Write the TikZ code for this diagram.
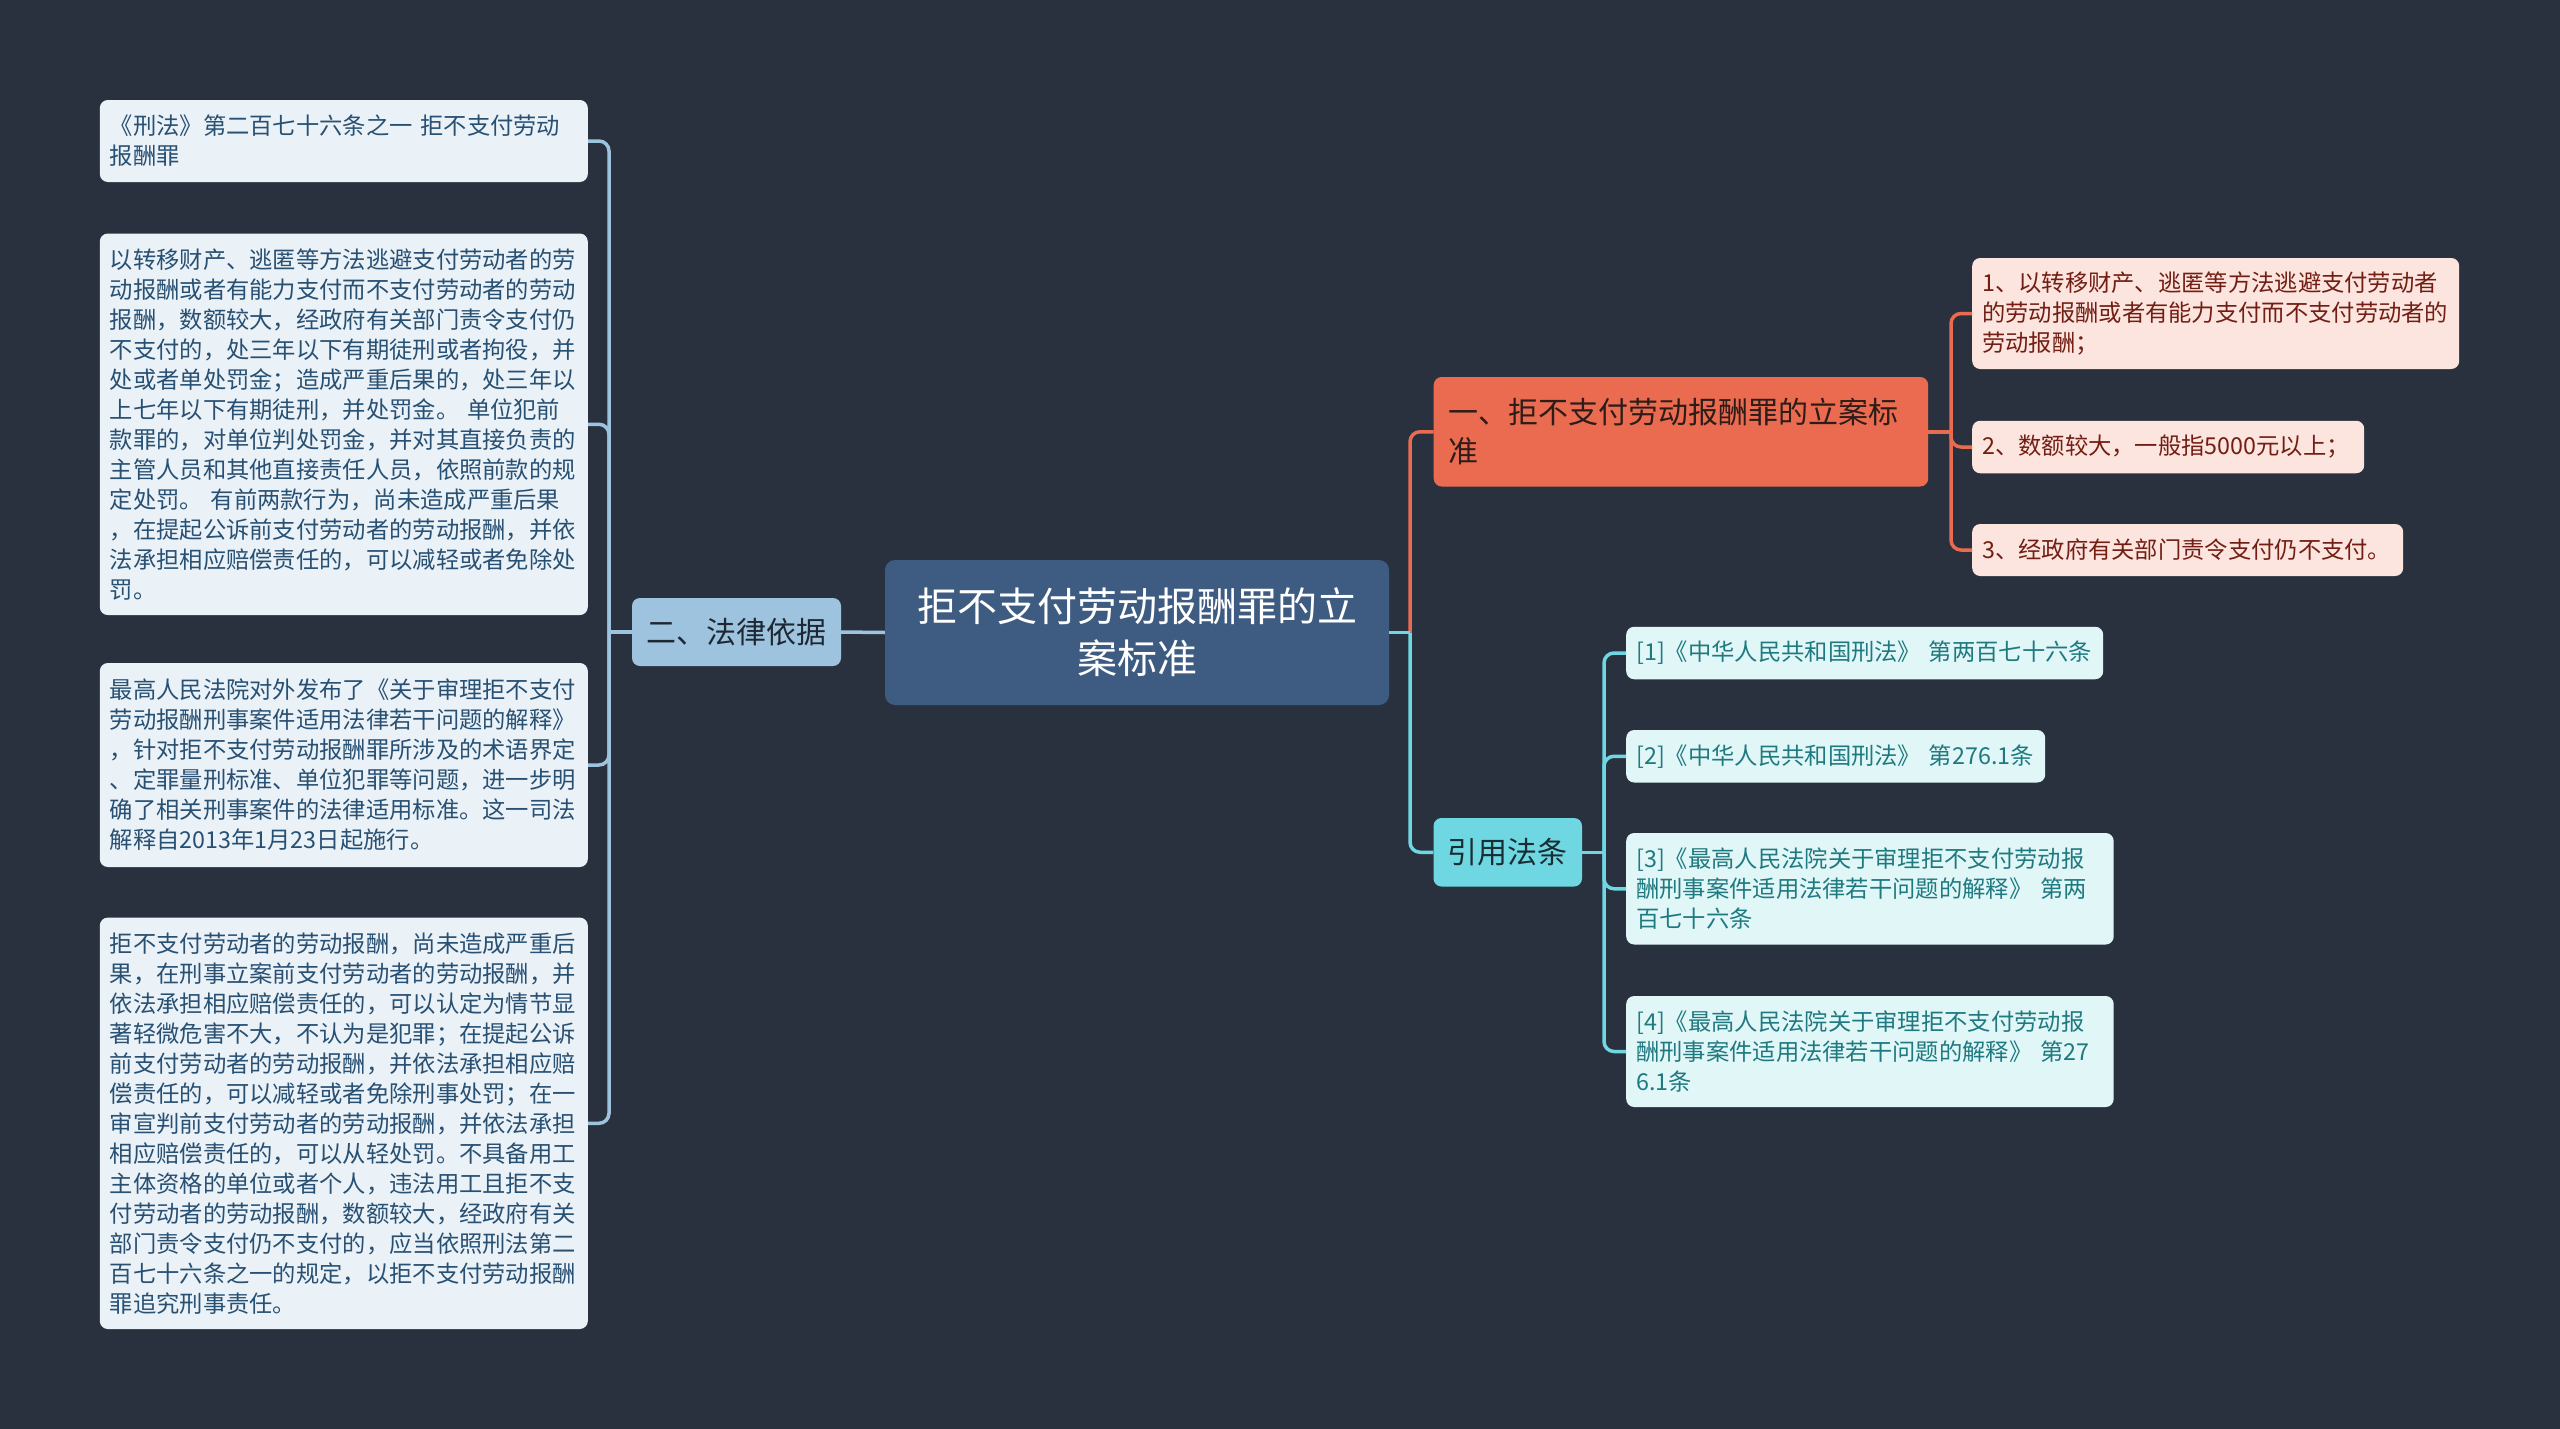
\documentclass[tikz,border=0pt]{standalone}
\usepackage{fontspec}
\setmainfont{Noto Sans CJK SC}
\definecolor{bg}{RGB}{41,49,63}
\definecolor{cfill}{RGB}{62,91,130}
\definecolor{lfill}{RGB}{234,242,248}
\definecolor{ltext}{RGB}{40,80,115}
\definecolor{lline}{RGB}{158,195,222}
\definecolor{ofill}{RGB}{234,107,80}
\definecolor{otext}{RGB}{45,28,24}
\definecolor{pfill}{RGB}{252,229,222}
\definecolor{ptext}{RGB}{115,30,20}
\definecolor{cyfill}{RGB}{110,215,225}
\definecolor{cytext}{RGB}{25,45,52}
\definecolor{tfill}{RGB}{225,246,247}
\definecolor{ttext}{RGB}{30,122,128}
\definecolor{dtext}{RGB}{30,40,52}
\begin{document}
\begin{tikzpicture}[x=1pt,y=-1pt,
  box/.style={rounded corners=8pt, inner ysep=0pt, align=left},
  small/.style={font=\fontsize{23.3}{30}\selectfont},
  lbox/.style={box, small, fill=lfill, text=ltext, inner xsep=10pt, text width=468pt, anchor=west},
  pbox/.style={box, small, fill=pfill, text=ptext, inner xsep=10pt, anchor=west},
  tbox/.style={box, small, fill=tfill, text=ttext, inner xsep=10pt, anchor=west},
  rootbox/.style={rounded corners=10pt, fill=cfill, text=white, align=center, inner sep=0pt,
    font=\fontsize{40}{52}\selectfont},
  subbox/.style={rounded corners=8pt, align=center, inner sep=0pt, font=\fontsize{30}{39}\selectfont},
  conn/.style={line width=3.5pt, rounded corners=10pt},
]
\fill[bg] (0,0) rectangle (2560,1429);
\useasboundingbox (0,0) rectangle (2560,1429);

% root
\node[rootbox, minimum width=504pt, minimum height=145pt] (root) at (1137,632.5)
  {拒不支付劳动报酬罪的立\\案标准};

% left branch
\node[subbox, fill=lline, text=dtext, minimum width=209pt, minimum height=68pt] (er) at (736.5,632)
  {二、法律依据};

\node[lbox, minimum height=82pt] (L1) at (99.6,141)
  {《刑法》第二百七十六条之一 拒不支付劳动\\报酬罪};
\node[lbox, minimum height=381.5pt] (L2) at (99.6,424.3)
  {以转移财产、逃匿等方法逃避支付劳动者的劳\\
   动报酬或者有能力支付而不支付劳动者的劳动\\
   报酬，数额较大，经政府有关部门责令支付仍\\
   不支付的，处三年以下有期徒刑或者拘役，并\\
   处或者单处罚金；造成严重后果的，处三年以\\
   上七年以下有期徒刑，并处罚金。 单位犯前\\
   款罪的，对单位判处罚金，并对其直接负责的\\
   主管人员和其他直接责任人员，依照前款的规\\
   定处罚。 有前两款行为，尚未造成严重后果\\
   ，在提起公诉前支付劳动者的劳动报酬，并依\\
   法承担相应赔偿责任的，可以减轻或者免除处\\
   罚。};
\node[lbox, minimum height=204pt] (L3) at (99.6,765)
  {最高人民法院对外发布了《关于审理拒不支付\\
   劳动报酬刑事案件适用法律若干问题的解释》\\
   ，针对拒不支付劳动报酬罪所涉及的术语界定\\
   、定罪量刑标准、单位犯罪等问题，进一步明\\
   确了相关刑事案件的法律适用标准。这一司法\\
   解释自2013年1月23日起施行。};
\node[lbox, minimum height=411.4pt] (L4) at (99.6,1123.3)
  {拒不支付劳动者的劳动报酬，尚未造成严重后\\
   果，在刑事立案前支付劳动者的劳动报酬，并\\
   依法承担相应赔偿责任的，可以认定为情节显\\
   著轻微危害不大，不认为是犯罪；在提起公诉\\
   前支付劳动者的劳动报酬，并依法承担相应赔\\
   偿责任的，可以减轻或者免除刑事处罚；在一\\
   审宣判前支付劳动者的劳动报酬，并依法承担\\
   相应赔偿责任的，可以从轻处罚。不具备用工\\
   主体资格的单位或者个人，违法用工且拒不支\\
   付劳动者的劳动报酬，数额较大，经政府有关\\
   部门责令支付仍不支付的，应当依照刑法第二\\
   百七十六条之一的规定，以拒不支付劳动报酬\\
   罪追究刑事责任。};

% right branch 1
\node[rounded corners=8pt, fill=ofill, text=otext, align=left, inner xsep=14.5pt, inner ysep=0pt,
  font=\fontsize{30}{39}\selectfont, text width=465.5pt, minimum height=109.5pt, anchor=west]
  (s1) at (1433.5,431.75) {一、拒不支付劳动报酬罪的立案标\\准};

\node[pbox, text width=467pt, minimum height=111pt] (a1) at (1972,313.5)
  {1、以转移财产、逃匿等方法逃避支付劳动者\\的劳动报酬或者有能力支付而不支付劳动者的\\劳动报酬；};
\node[pbox, text width=372pt, minimum height=52.5pt] (a2) at (1972,447)
  {2、数额较大，一般指5000元以上；};
\node[pbox, text width=411pt, minimum height=52pt] (a3) at (1972,550)
  {3、经政府有关部门责令支付仍不支付。};

% right branch 2
\node[subbox, fill=cyfill, text=cytext, minimum width=148.5pt, minimum height=68.5pt] (s2) at (1507.75,852.25)
  {引用法条};

\node[tbox, text width=457pt, minimum height=52.5pt] (b1) at (1626,653)
  {[1]《中华人民共和国刑法》 第两百七十六条};
\node[tbox, text width=399pt, minimum height=52.5pt] (b2) at (1626,756.25)
  {[2]《中华人民共和国刑法》 第276.1条};
\node[tbox, text width=467.5pt, minimum height=111.5pt] (b3) at (1626,888.75)
  {[3]《最高人民法院关于审理拒不支付劳动报\\酬刑事案件适用法律若干问题的解释》 第两\\百七十六条};
\node[tbox, text width=467.5pt, minimum height=111pt] (b4) at (1626,1051.5)
  {[4]《最高人民法院关于审理拒不支付劳动报\\酬刑事案件适用法律若干问题的解释》 第27\\6.1条};

% junctions
\coordinate (jl) at (609,632);
\coordinate (jc) at (1410,632.5);
\coordinate (ja) at (1951,431.75);
\coordinate (jb) at (1604,852.25);

% connectors
\draw[conn, lline] (er.west) -- (jl);
\foreach \n in {L1,L2,L3,L4} \draw[conn, lline] (jl) |- (\n.east);
\draw[conn, lline] (root.west) -- (er.east);

\draw[conn, ofill] (jc) |- (s1.west);
\draw[conn, cyfill] (jc) |- (s2.west);
\draw[conn, cyfill] (root.east) -- (jc);

\draw[conn, ofill] (s1.east) -- (ja);
\foreach \n in {a1,a2,a3} \draw[conn, ofill] (ja) |- (\n.west);

\draw[conn, cyfill] (s2.east) -- (jb);
\foreach \n in {b1,b2,b3,b4} \draw[conn, cyfill] (jb) |- (\n.west);
\end{tikzpicture}
\end{document}
